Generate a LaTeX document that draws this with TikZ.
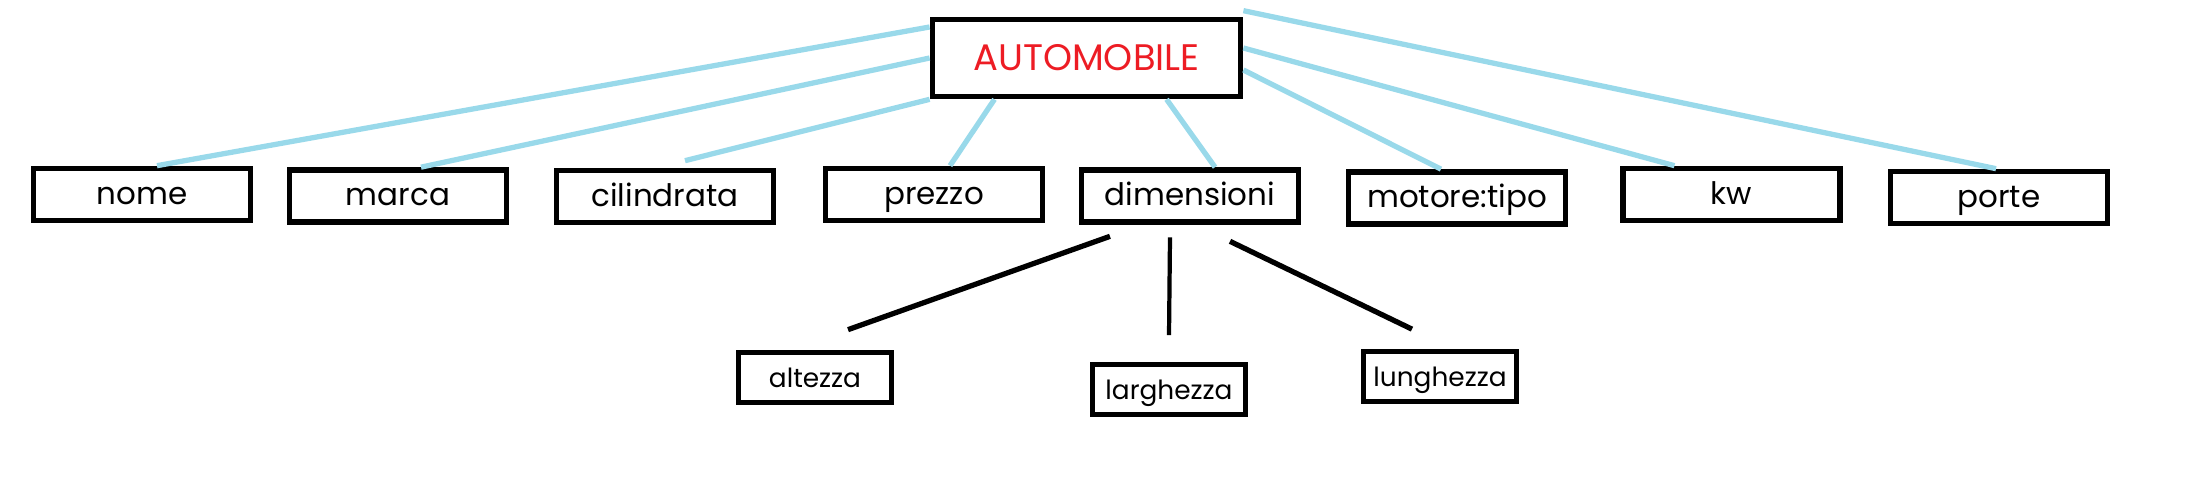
\documentclass[tikz,border=0pt]{standalone}
\usepackage{fontspec}
\setmainfont{Poppins}
\usepackage{xcolor}
\usepackage{tikz}
\definecolor{paintblue}{RGB}{153,217,234}
\definecolor{paintred}{RGB}{237,28,36}

\begin{document}
\begin{tikzpicture}[x=0.01cm,y=-0.01cm,
    topbox/.style={rectangle,draw,line width=1.6pt,minimum width=3.08cm,minimum height=0.77cm,inner sep=0pt,
        text=paintred,font=\fontsize{10.5}{12}\selectfont},
    fieldbox/.style={rectangle,draw,line width=1.6pt,minimum width=2.17cm,minimum height=0.52cm,inner sep=0pt,
        text height=1ex,text depth=0pt,font=\fontsize{8.8}{10}\selectfont},
    subbox/.style={rectangle,draw,line width=1.6pt,minimum width=1.53cm,minimum height=0.5cm,inner sep=0pt,
        text height=1ex,text depth=0pt,font=\fontsize{7.5}{9}\selectfont},
    link/.style={paintblue,line width=1.5pt},
    sublink/.style={black,line width=1.5pt}]
    \useasboundingbox (0,0) rectangle (2200,500);

    \node[topbox] (auto) at (1086.5,58) {AUTOMOBILE};

    \node[fieldbox] (nome) at (142,194.5) {nome};
    \node[fieldbox] (marca) at (398,196) {marca};
    \node[fieldbox] (cilindrata) at (665,196.5) {cilindrata};
    \node[fieldbox] (prezzo) at (934,194.5) {prezzo};
    \node[fieldbox] (dimensioni) at (1190,196) {dimensioni};
    \node[fieldbox] (motore) at (1457,198) {motore:tipo};
    \node[fieldbox] (kw) at (1731.5,194.5) {kw};
    \node[fieldbox] (porte) at (1999,197.5) {porte};

    \node[subbox] (altezza) at (815,377.5) {altezza};
    \node[subbox] (larghezza) at (1169,389.5) {larghezza};
    \node[subbox] (lunghezza) at (1440,376.5) {lunghezza};

    % attributes of the automobile
    \draw[link] ([yshift=3.1mm]auto.west) -- ([xshift=1.5mm]nome.north);
    \draw[link] (auto.west) -- ([xshift=2.3mm]marca.north);
    \draw[link] (auto.south west) -- ([xshift=2mm,yshift=0.7mm]cilindrata.north);
    \draw[link] ([xshift=-9.2mm]auto.south) -- ([xshift=1.6mm]prezzo.north);
    \draw[link] ([xshift=8mm]auto.south) -- ([xshift=2.5mm]dimensioni.north);
    \draw[link] ([yshift=-1.2mm]auto.east) -- ([xshift=-1.6mm]motore.north);
    \draw[link] ([yshift=1mm]auto.east) -- ([xshift=-5.7mm]kw.north);
    \draw[link] ([yshift=0.6mm]auto.north east) -- ([xshift=-0.3mm]porte.north);

    % parts of dimensioni
    \draw[sublink] ([xshift=-8mm,yshift=-1.15mm]dimensioni.south) -- ([xshift=3.3mm,yshift=2mm]altezza.north);
    \draw[sublink,line width=1.2pt] ([xshift=-2mm,yshift=-1.25mm]dimensioni.south) -- ([yshift=2.65mm]larghezza.north);
    \draw[sublink] ([xshift=4mm,yshift=-1.65mm]dimensioni.south) -- ([xshift=-2.8mm,yshift=1.95mm]lunghezza.north);
\end{tikzpicture}
\end{document}
